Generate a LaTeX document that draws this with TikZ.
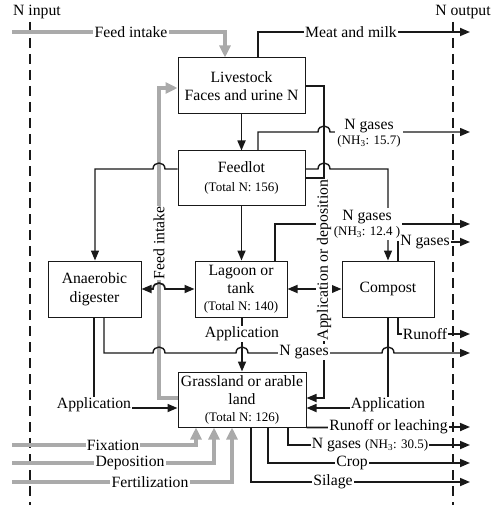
\documentclass[tikz,border=0pt]{standalone}
\usepackage{fontspec}
\setmainfont{Liberation Serif}
\usetikzlibrary{arrows.meta,calc}
\definecolor{gr}{RGB}{170,170,170}
\definecolor{ink}{RGB}{25,25,25}
\newcommand{\smf}{\fontsize{13}{16}\selectfont}
\newcommand{\hopr}[2]{-- ({#1-6},#2) .. controls ({#1-6},{#2-8}) and ({#1+6},{#2-8}) .. ({#1+6},#2)}
\newcommand{\hopl}[2]{-- ({#1+6},#2) .. controls ({#1+6},{#2-8}) and ({#1-6},{#2-8}) .. ({#1-6},#2)}
\tikzset{
  box/.style={draw=ink, line width=1pt, align=center, inner sep=0pt, font=\fontsize{15.7}{18.5}\selectfont},
  lbl/.style={fill=white, inner sep=1.2pt, align=center, font=\fontsize{15.7}{17}\selectfont},
  ttl/.style={inner sep=0pt, font=\fontsize{15.7}{17}\selectfont},
  ln/.style={draw=ink, line width=1.7pt, line join=miter},
  lnthin/.style={draw=ink, line width=1.4pt, line join=miter},
  tip/.style={-{Triangle[length=10pt,width=8pt]}},
  tips/.style={{Triangle[length=10pt,width=8pt]}-{Triangle[length=10pt,width=8pt]}},
  gry/.style={draw=gr, line width=4pt, line join=miter, -{Triangle[length=12pt,width=11pt]}},
  gryline/.style={draw=gr, line width=4pt, line join=miter},
  border/.style={draw=ink, line width=2pt, dash pattern=on 10pt off 6pt}
}
\begin{document}
\begin{tikzpicture}[x=1pt,y=-1pt]
\useasboundingbox (0,0) rectangle (499,513);
% boundaries
\coordinate (inT) at (30,22);  \coordinate (inB) at (30,505);
\coordinate (outT) at (453,22); \coordinate (outB) at (453,505);
\draw[border] (inT) -- (inB);
\draw[border] (outT) -- (outB);
\node[ttl] (nin) at (37,12) {N input};
\node[ttl] (nout) at (463,12) {N output};
% boxes
\node[box, minimum width=127pt, minimum height=56pt] (live) at (241.5,86) {Livestock\\Faces and urine N};
\node[box, minimum width=127pt, minimum height=54pt] (feed) at (241.5,178) {Feedlot\\{\smf (Total N: 156)}};
\node[box, minimum width=93pt, minimum height=56pt] (anae) at (94.5,289) {Anaerobic\\digester};
\node[box, minimum width=92pt, minimum height=56pt] (lag) at (241,289) {Lagoon or\\tank\\[-2pt]{\smf (Total N: 140)}};
\node[box, minimum width=92pt, minimum height=56pt] (comp) at (388,289) {Compost};
\node[box, minimum width=128pt, minimum height=55pt] (grass) at (242,399.5) {Grassland or arable\\land\\[-2pt]{\smf (Total N: 126)}};
% gray inputs
\coordinate (fi0) at (12,32);
\draw[gry] (fi0) -- (225,32) -- (225,0 |- live.north);
\node[lbl] (lfi) at (131,32) {Feed intake};
\draw[gry] (grass.west |- 0,398) -- (159,398) -- (159,88) -- (live.west |- 0,88);
\coordinate (fx0) at (12,445); \coordinate (dp0) at (12,463); \coordinate (ft0) at (12,482);
\draw[gry] (fx0) -- (196,445) -- (196,0 |- grass.south);
\draw[gry] (dp0) -- (214,463) -- (214,0 |- grass.south);
\draw[gry] (ft0) -- (232,482) -- (232,0 |- grass.south);
% black connectors
\coordinate (mmE) at (470,32);
\draw[ln,tip] (258,0 |- live.north) -- (258,32) -- (mmE);
\draw[ln,tip] (live.east) -- (324,86) -- (324,398) -- (grass.east |- 0,398);
\draw[ln, line width=2.2pt] (feed.east) -- (324,178);
\draw[ln,tip] (live.south) -- (feed.north);
\draw[lnthin,tip] (feed.east |- 0,169) \hopr{324}{169} -- (388,169) -- (388,0 |- comp.north);
\coordinate (g1E) at (470,132);
\draw[lnthin,tip] (258,0 |- feed.north) -- (258,132) \hopr{324}{132} -- (g1E);
\draw[lnthin,tip] (feed.west |- 0,169) \hopl{159}{169} -- (95,169) -- (95,0 |- anae.north);
\draw[ln,tip] (feed.south) -- (feed.south |- lag.north);
\draw[ln,tips] (anae.east) \hopr{159}{289} -- (lag.west);
\draw[ln,tips] (lag.east) -- (comp.west);
\coordinate (g2E) at (470,224);
\draw[lnthin,tip] (275,0 |- lag.north) -- (275,224) -- (g2E);
\coordinate (g3E) at (470,242);
\draw[ln,tip] (398,0 |- comp.north) -- (398,242) -- (g3E);
\coordinate (roE) at (470,334);
\draw[ln,tip] (398,0 |- comp.south) -- (398,334) -- (roE);
\draw[ln,tip] (388,0 |- comp.south) -- (388,408) -- (grass.east |- 0,408);
\draw[ln,tip] (94,0 |- anae.south) -- (94,408) -- (grass.west |- 0,408);
\coordinate (g4E) at (470,353);
\draw[lnthin,tip] (104,0 |- anae.south) -- (104,353) \hopr{159}{353} \hopr{242}{353} \hopr{388}{353} -- (g4E);
\draw[ln,tip] (242,0 |- lag.south) -- (242,0 |- grass.north);
\coordinate (rlE) at (470,427);
\draw[ln,tip] (grass.south east) -- (rlE);
\coordinate (g5E) at (470,445);
\draw[ln,tip] (288,0 |- grass.south) -- (288,445) -- (g5E);
\coordinate (crE) at (470,463);
\draw[ln,tip] (268,0 |- grass.south) -- (268,463) -- (crE);
\coordinate (siE) at (470,482);
\draw[ln,tip] (251,0 |- grass.south) -- (251,482) -- (siE);
% labels
\node[lbl] (lmm) at (351,32) {Meat and milk};
\node[lbl, rotate=90, inner sep=0.8pt] (lad) at (324,260) {Application or deposition};
\node[lbl, rotate=90, inner sep=0.8pt] (lfi2) at (159,243) {Feed intake};
\node[lbl, inner sep=2pt] (lg1) at (369,133) {N gases\\[-2pt]{\smf (NH\textsubscript{3}: 15.7)}};
\node[lbl, inner sep=2pt] (lg2) at (367,224) {N gases\\[-2pt]{\smf (NH\textsubscript{3}: 12.4 )}};
\node[lbl] (lg3) at (425,242) {N gases};
\node[lbl] (lro) at (425,334) {Runoff};
\node[lbl] (lapc) at (388,405) {Application};
\node[lbl] (lapa) at (94,405) {Application};
\node[lbl] (lapl) at (242,334) {Application};
\node[lbl] (lg4) at (304,352) {N gases};
\node[lbl] (lrl) at (388.5,427) {Runoff or leaching};
\node[lbl] (lg5) at (370,445) {N gases {\smf (NH\textsubscript{3}: 30.5)}};
\node[lbl] (lcr) at (352,463) {Crop};
\node[lbl] (lsi) at (333,482) {Silage};
\node[lbl] (lfx) at (113,445) {Fixation};
\node[lbl] (ldp) at (130,463) {Deposition};
\node[lbl] (lft) at (150,482) {Fertilization};
\end{tikzpicture}
\end{document}
